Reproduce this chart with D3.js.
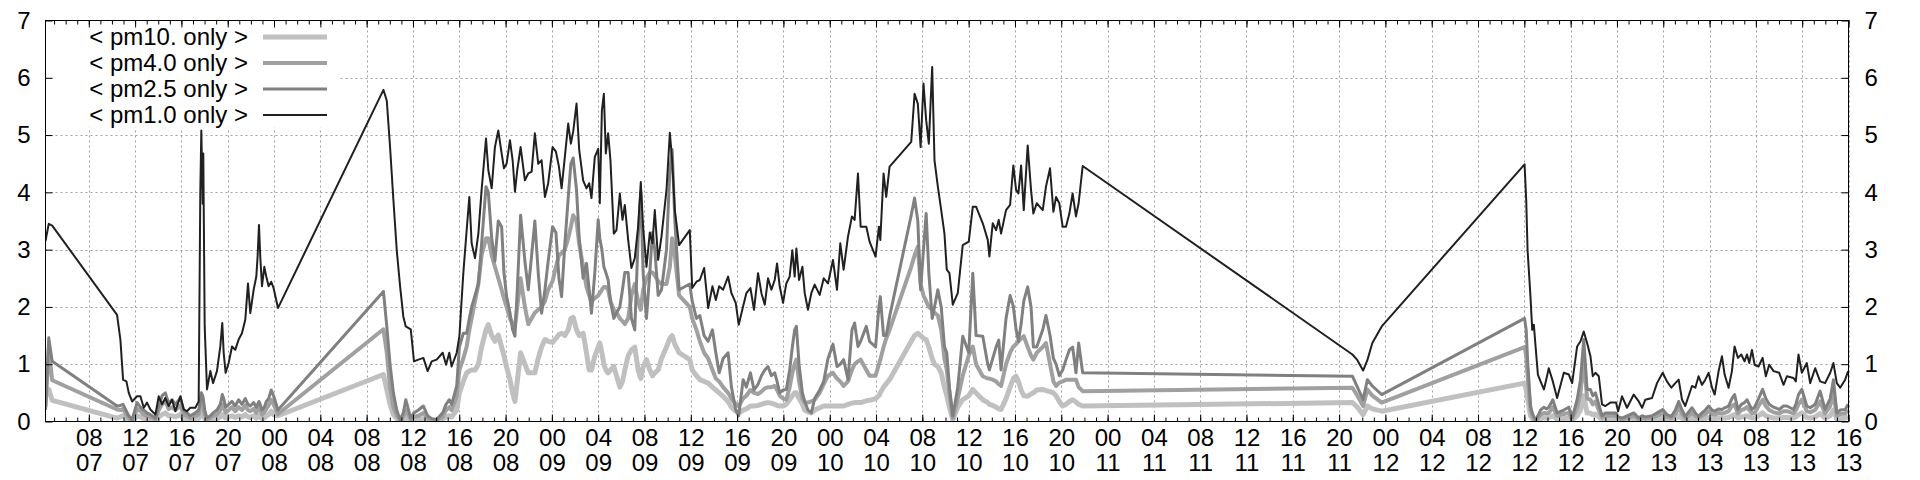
<!DOCTYPE html>
<meta charset="utf-8">
<style>
body { margin: 0; background: #fff; }
text { font-family: "Liberation Sans", Arial, sans-serif; }
</style>
<body>
  <div id="chart"></div>
</body>

<script src="https://d3js.org/d3.v7.min.js"></script>
<script>

// hours counted from 00:00 on day 07
var hours = [
  4.26, 4.54, 4.84,
  10.44, 10.73, 10.96, 11.25, 11.45, 11.74, 12.17, 12.46, 12.75, 13.03,
  13.32, 13.75, 14.04, 14.33, 14.61, 14.90, 15.19, 15.48, 15.91, 16.20,
  16.48, 16.77, 17.20, 17.49, 17.63, 17.72, 17.84, 17.89, 18.01, 18.21,
  18.50, 18.73, 19.07, 19.36, 19.53, 19.65, 19.82, 20.08, 20.37, 20.65,
  20.94, 21.23, 21.52, 21.75, 21.95, 22.24, 22.47, 22.58, 22.70, 22.81,
  22.96, 23.16, 23.33, 23.53, 23.76, 23.96, 24.34,
  33.45, 33.74, 34.02, 34.31, 34.60, 34.89, 35.17, 35.38, 35.81, 36.09,
  36.47, 36.90, 37.27, 37.62, 38.05, 38.57, 38.86, 39.14, 39.34, 39.78,
  40.01, 40.35, 40.64, 40.87, 41.07, 41.36, 41.65, 41.93, 42.31, 42.51,
  42.80, 43.08, 43.37, 43.66, 43.86, 44.09, 44.38, 44.61, 44.81, 45.01,
  45.30, 45.67, 45.96, 46.25, 46.53, 46.82, 47.11, 47.40, 47.68, 48.06,
  48.35, 48.61, 48.84, 49.12, 49.41, 49.64, 49.84, 50.13, 50.36, 50.70,
  50.99, 51.22, 51.42, 51.71, 52.00, 52.14, 52.32, 52.49, 52.66, 52.86,
  53.06, 53.35, 53.58, 53.87, 54.10, 54.30, 54.59, 54.87, 55.16, 55.45,
  55.68, 55.88, 56.17, 56.46, 56.69, 56.89, 57.18, 57.47, 57.90, 58.19,
  58.39, 58.62, 58.99, 59.91, 60.12, 60.49, 60.78, 61.15, 61.50, 61.87,
  62.16, 62.45, 62.79, 63.22, 63.51, 63.88, 64.14, 64.52, 64.80, 65.15,
  65.46, 65.81, 66.10, 66.39, 66.67, 66.96, 67.25, 67.45, 67.68, 67.97,
  68.25, 68.54, 68.77, 68.97, 69.12, 69.35, 69.64, 69.84, 70.12, 70.41,
  70.70, 71.13, 71.48, 71.85, 72.28, 72.63, 72.91, 73.20, 73.58, 73.92,
  74.15, 74.44, 74.67, 75.16, 75.44, 75.96, 76.25, 76.37, 76.65, 76.88,
  77.17, 79.04, 79.33, 79.61, 79.85, 80.10, 80.33, 80.56, 80.85, 81.05,
  81.34, 81.63, 81.91, 82.11, 82.34, 82.63, 83.06, 83.49, 84.01, 84.36,
  84.64, 85.22, 85.65, 85.79, 86.08, 86.37, 86.60, 86.80, 87.23, 87.58,
  87.86, 88.10, 88.30, 88.53, 88.76, 89.10, 89.39, 89.59, 89.88, 90.40,
  90.68, 91.03, 91.32, 91.55, 91.83, 92.12, 92.41, 92.70, 92.98, 93.27,
  93.50, 93.85,
  117.15, 117.58, 118.07, 118.44, 118.87, 119.68, 132.02,
  132.16, 132.28, 132.53, 132.68, 132.82, 132.97, 133.17, 133.40, 133.69, 133.89,
  134.11, 134.46, 134.83, 135.41, 135.84, 136.13, 136.56, 136.85, 137.13, 137.42,
  137.71, 137.91, 138.14, 138.43, 138.71, 139.00, 139.43, 139.92, 140.10, 140.44,
  140.87, 141.45, 141.88, 142.17, 142.45, 143.03, 143.46, 143.95, 144.32, 144.70,
  145.04, 145.33, 145.62, 145.90, 146.48, 146.77, 147.05, 147.34, 147.63, 147.92,
  148.21, 148.44, 148.78, 149.07, 149.30, 149.64, 149.93, 150.16, 150.45, 150.74,
  151.02, 151.23, 151.43, 151.66, 151.89, 152.23, 152.58, 152.86, 153.15, 153.53,
  154.01, 154.39, 154.68, 155.25, 155.45, 155.68, 155.97, 156.40, 156.69, 157.12,
  157.55, 157.98, 158.42, 158.70, 158.99, 159.28, 159.71, 159.97
]

var pm01 = [
  3.15, 3.45, 3.42,
  1.86, 1.43, 0.73, 0.70, 0.50, 0.35, 0.44, 0.44, 0.24, 0.33,
  0.21, 0.12, 0.44, 0.30, 0.41, 0.27, 0.38, 0.18, 0.44, 0.21,
  0.18, 0.24, 0.24, 0.35, 3.98, 5.08, 3.80, 4.68, 1.66, 0.56,
  0.88, 0.67, 0.88, 1.31, 1.72, 1.20, 0.85, 1.02, 1.31, 1.25,
  1.43, 1.54, 1.78, 2.41, 1.89, 2.30, 2.53, 2.88, 3.43, 2.88,
  2.36, 2.70, 2.53, 2.36, 2.44, 2.33, 1.98,
  5.79, 5.60, 4.80, 3.87, 2.99, 2.36, 1.83, 1.66, 1.61, 1.05,
  1.08, 1.11, 0.88, 1.05, 1.08, 1.20, 0.99, 1.20, 0.96, 1.20,
  1.49, 2.59, 3.34, 3.92, 3.11, 2.85, 3.28, 4.04, 4.94, 4.39,
  4.07, 4.79, 5.08, 4.68, 4.42, 4.50, 4.91, 4.56, 4.01, 4.39,
  4.79, 4.21, 4.33, 4.36, 5.03, 4.50, 4.56, 3.92, 4.16, 4.79,
  4.71, 4.45, 4.07, 4.62, 5.20, 4.85, 5.06, 5.55, 4.74, 4.21,
  4.07, 4.16, 3.90, 4.62, 4.76, 3.81, 5.43, 5.72, 4.68, 5.03,
  4.56, 3.28, 3.34, 3.98, 3.52, 3.78, 3.17, 2.68, 2.85, 3.40,
  4.18, 3.40, 2.70, 3.30, 3.11, 3.69, 2.82, 3.23, 4.04, 5.04,
  4.56, 3.69, 3.08, 3.34, 2.33, 2.44, 2.47, 2.68, 1.98, 2.36,
  2.12, 2.36, 2.30, 2.53, 2.24, 2.07, 1.69, 2.01, 2.24, 2.33,
  1.95, 2.59, 2.24, 2.04, 2.50, 2.30, 2.47, 2.76, 2.36, 2.07,
  2.41, 2.53, 2.99, 2.53, 3.02, 2.47, 2.70, 2.24, 1.95, 2.24,
  2.39, 2.21, 2.50, 2.41, 2.82, 2.30, 3.11, 2.65, 3.23, 3.58,
  3.52, 4.33, 3.40, 3.40, 3.14, 2.88, 3.40, 3.17, 4.33, 3.92,
  4.45, 4.88, 5.72, 5.55, 4.79, 5.90, 5.26, 4.85, 6.19, 4.56,
  4.10, 3.69, 3.28, 2.65, 2.59, 2.04, 2.24, 3.08, 3.14, 3.75,
  3.75, 3.46, 3.17, 2.88, 3.46, 3.34, 3.52, 3.28, 3.69, 3.78,
  4.47, 4.04, 3.98, 4.47, 3.69, 4.82, 4.04, 3.63, 3.81, 3.69,
  4.10, 4.42, 3.66, 3.92, 3.81, 3.40, 3.40, 3.63, 3.98, 3.58,
  3.81, 4.46,
  1.17, 1.07, 0.89, 1.07, 1.37, 1.66, 4.49,
  3.87, 2.99, 2.18, 1.60, 1.69, 1.31, 0.82, 0.70, 0.56, 0.73,
  0.93, 0.70, 0.41, 0.85, 0.82, 0.67, 1.31, 1.40, 1.57, 1.37,
  1.14, 0.79, 0.85, 0.79, 0.30, 0.27, 0.33, 0.33, 0.18, 0.44,
  0.24, 0.47, 0.35, 0.24, 0.38, 0.41, 0.67, 0.85, 0.70, 0.59,
  0.67, 0.73, 0.38, 0.27, 0.62, 0.59, 0.79, 0.64, 0.73, 0.85,
  0.59, 0.47, 0.88, 1.14, 0.82, 0.59, 0.88, 1.31, 1.11, 1.17,
  1.05, 1.17, 1.02, 1.25, 0.99, 0.96, 1.11, 0.79, 0.99, 0.88,
  0.85, 0.64, 0.79, 0.76, 0.70, 1.17, 0.85, 1.02, 0.67, 0.93,
  0.70, 0.67, 0.85, 1.02, 0.67, 0.59, 0.73, 0.88
]

var pm25 = [
  0.20, 1.46, 1.05,
  0.27, 0.28, 0.30, 0.18, 0.10, 0.03, 0.33, 0.25, 0.20, 0.15,
  0.12, 0.06, 0.27, 0.45, 0.50, 0.32, 0.38, 0.30, 0.41, 0.20,
  0.15, 0.10, 0.15, 0.20, 0.35, 0.50, 0.45, 0.40, 0.20, 0.06,
  0.10, 0.15, 0.20, 0.30, 0.47, 0.40, 0.25, 0.30, 0.35, 0.27,
  0.38, 0.30, 0.40, 0.30, 0.27, 0.33, 0.25, 0.30, 0.35, 0.30,
  0.20, 0.25, 0.35, 0.40, 0.55, 0.45, 0.20,
  2.27, 1.66, 1.00, 0.50, 0.20, 0.03, 0.15, 0.38, 0.06, 0.15,
  0.20, 0.27, 0.10, 0.05, 0.04, 0.15, 0.30, 0.38, 0.30, 0.62,
  1.30, 1.54, 1.54, 1.80, 2.00, 2.20, 2.40, 3.10, 4.10, 4.00,
  3.20, 2.80, 3.50, 3.40, 2.60, 2.18, 1.90, 1.60, 1.49, 2.30,
  3.60, 2.80, 2.30, 2.90, 3.50, 2.60, 1.89, 2.30, 2.80, 3.40,
  3.30, 2.50, 2.18, 3.10, 3.90, 4.50, 4.60, 4.04, 3.20, 2.50,
  2.76, 2.30, 1.89, 2.60, 3.52, 3.20, 3.00, 2.70, 2.60, 2.47,
  2.10, 1.80, 1.90, 2.00, 2.30, 2.60, 2.60, 1.80, 1.60, 3.20,
  4.00, 2.60, 1.80, 2.60, 3.30, 3.00, 2.20, 2.30, 3.00, 4.40,
  4.75, 3.50, 2.30, 2.40, 2.10, 1.80, 1.85, 1.50, 1.40, 1.60,
  1.20, 0.85, 1.10, 1.20, 0.60, 0.20, 0.10, 0.73, 0.60, 0.85,
  0.55, 0.65, 0.80, 0.90, 0.96, 0.80, 0.85, 0.70, 0.50, 0.55,
  0.56, 0.90, 1.30, 1.60, 1.66, 1.00, 0.50, 0.35, 0.20, 0.15,
  0.40, 0.55, 0.70, 1.10, 1.35, 0.96, 1.00, 1.08, 0.73, 1.60,
  1.72, 1.31, 1.40, 1.66, 1.40, 1.30, 2.00, 2.18, 1.50, 1.50,
  1.83, 3.60, 3.90, 3.50, 2.30, 3.00, 3.63, 2.60, 1.80, 2.00,
  2.30, 2.00, 1.31, 1.20, 0.60, 0.09, 0.60, 1.49, 1.20, 2.59,
  1.50, 1.49, 1.00, 0.90, 1.10, 1.30, 1.42, 0.90, 1.80, 2.20,
  2.01, 1.60, 1.40, 1.70, 2.10, 2.35, 2.00, 1.30, 1.30, 1.60,
  1.85, 1.50, 1.10, 1.00, 0.80, 0.90, 1.08, 1.25, 1.30, 0.85,
  1.37, 0.85,
  0.79, 0.60, 0.38, 0.73, 0.62, 0.47, 1.80,
  1.60, 1.08, 0.27, 0.15, 0.08, 0.03, 0.10, 0.20, 0.25, 0.22,
  0.25, 0.38, 0.15, 0.20, 0.25, 0.07, 0.38, 0.73, 1.43, 0.56,
  0.56, 0.45, 0.50, 0.30, 0.10, 0.15, 0.15, 0.15, 0.08, 0.06,
  0.10, 0.15, 0.06, 0.10, 0.08, 0.10, 0.15, 0.21, 0.12, 0.09,
  0.20, 0.35, 0.20, 0.09, 0.24, 0.15, 0.09, 0.15, 0.20, 0.27,
  0.20, 0.18, 0.22, 0.21, 0.24, 0.27, 0.40, 0.47, 0.21, 0.30,
  0.33, 0.38, 0.30, 0.21, 0.25, 0.40, 0.56, 0.40, 0.30, 0.25,
  0.21, 0.27, 0.27, 0.21, 0.30, 0.47, 0.56, 0.27, 0.24, 0.30,
  0.53, 0.21, 0.40, 0.73, 0.15, 0.20, 0.21, 0.30
]

var pm40 = [
  0.25, 1.25, 0.72,
  0.21, 0.20, 0.22, 0.12, 0.06, 0.02, 0.22, 0.18, 0.12, 0.10,
  0.08, 0.04, 0.20, 0.30, 0.35, 0.22, 0.25, 0.20, 0.28, 0.12,
  0.10, 0.06, 0.10, 0.12, 0.25, 0.35, 0.30, 0.28, 0.12, 0.04,
  0.06, 0.10, 0.12, 0.20, 0.30, 0.25, 0.15, 0.20, 0.25, 0.18,
  0.25, 0.20, 0.28, 0.20, 0.18, 0.22, 0.15, 0.20, 0.25, 0.20,
  0.12, 0.16, 0.22, 0.28, 0.38, 0.30, 0.13,
  1.61, 1.20, 0.60, 0.25, 0.10, 0.02, 0.08, 0.20, 0.04, 0.08,
  0.10, 0.15, 0.06, 0.03, 0.02, 0.08, 0.20, 0.25, 0.20, 0.45,
  0.90, 1.10, 1.31, 1.60, 1.80, 2.10, 2.40, 2.90, 3.20, 3.20,
  2.90, 2.70, 2.50, 2.30, 2.15, 2.00, 1.80, 1.70, 1.66, 2.00,
  2.50, 2.00, 1.70, 1.80, 1.90, 1.95, 2.00, 2.10, 2.30, 2.45,
  2.70, 2.90, 2.94, 3.00, 3.20, 3.40, 3.60, 3.50, 3.10, 2.70,
  2.35, 2.20, 2.10, 2.15, 2.20, 2.24, 2.30, 2.35, 2.35, 2.30,
  2.10, 1.95, 1.90, 1.80, 1.75, 1.70, 1.80, 2.20, 2.40, 2.10,
  1.95, 2.30, 2.50, 2.60, 2.60, 2.55, 2.45, 2.40, 2.40, 2.70,
  3.20, 2.90, 2.20, 2.00, 1.80, 1.60, 1.40, 1.20, 1.10, 0.90,
  0.75, 0.70, 0.60, 0.50, 0.40, 0.30, 0.27, 0.40, 0.45, 0.55,
  0.50, 0.48, 0.52, 0.58, 0.60, 0.60, 0.62, 0.55, 0.45, 0.40,
  0.38, 0.60, 0.85, 1.00, 1.08, 0.70, 0.40, 0.33, 0.33, 0.35,
  0.38, 0.50, 0.65, 0.80, 0.85, 0.75, 0.70, 0.62, 0.70, 0.90,
  1.00, 1.05, 1.08, 0.90, 0.80, 0.80, 1.00, 1.08, 1.30, 1.45,
  1.60, 2.70, 2.90, 3.05, 2.40, 2.20, 2.10, 2.00, 1.95, 1.90,
  1.85, 1.60, 1.10, 0.90, 0.50, 0.06, 0.40, 0.80, 1.15, 1.31,
  1.00, 0.79, 0.75, 0.75, 0.73, 0.70, 0.65, 0.62, 1.00, 1.20,
  1.31, 1.35, 1.40, 1.45, 1.49, 1.30, 1.15, 1.08, 1.20, 1.30,
  1.37, 1.00, 0.70, 0.62, 0.68, 0.70, 0.73, 0.73, 0.73, 0.73,
  0.60, 0.53,
  0.59, 0.45, 0.27, 0.56, 0.45, 0.33, 1.30,
  1.15, 0.80, 0.20, 0.10, 0.05, 0.02, 0.06, 0.12, 0.15, 0.14,
  0.15, 0.25, 0.10, 0.13, 0.15, 0.05, 0.25, 0.50, 1.10, 0.40,
  0.38, 0.30, 0.35, 0.20, 0.07, 0.10, 0.10, 0.10, 0.05, 0.04,
  0.06, 0.10, 0.04, 0.06, 0.05, 0.07, 0.10, 0.15, 0.08, 0.06,
  0.13, 0.25, 0.13, 0.06, 0.15, 0.10, 0.06, 0.10, 0.13, 0.18,
  0.13, 0.12, 0.15, 0.14, 0.15, 0.18, 0.27, 0.30, 0.14, 0.20,
  0.22, 0.25, 0.20, 0.14, 0.15, 0.27, 0.38, 0.27, 0.20, 0.16,
  0.14, 0.18, 0.18, 0.14, 0.20, 0.30, 0.38, 0.18, 0.16, 0.20,
  0.35, 0.14, 0.27, 0.50, 0.10, 0.13, 0.14, 0.20
]

var pm10 = [
  0.45, 0.56, 0.37,
  0.06, 0.08, 0.10, 0.05, 0.03, 0.01, 0.10, 0.08, 0.05, 0.05,
  0.04, 0.02, 0.08, 0.12, 0.15, 0.10, 0.10, 0.08, 0.12, 0.05,
  0.04, 0.03, 0.04, 0.05, 0.10, 0.15, 0.12, 0.10, 0.05, 0.02,
  0.02, 0.04, 0.05, 0.08, 0.12, 0.10, 0.06, 0.08, 0.10, 0.07,
  0.10, 0.08, 0.12, 0.08, 0.07, 0.10, 0.06, 0.08, 0.10, 0.08,
  0.05, 0.06, 0.10, 0.12, 0.18, 0.12, 0.10,
  0.82, 0.56, 0.30, 0.12, 0.05, 0.01, 0.03, 0.06, 0.02, 0.03,
  0.04, 0.05, 0.03, 0.01, 0.01, 0.04, 0.08, 0.10, 0.08, 0.20,
  0.50, 0.70, 0.85, 0.88, 0.90, 0.90, 1.00, 1.30, 1.60, 1.69,
  1.50, 1.40, 1.51, 1.30, 1.15, 0.95, 0.73, 0.50, 0.35, 0.70,
  1.20, 1.00, 0.85, 0.85, 0.85, 1.10, 1.30, 1.43, 1.40, 1.38,
  1.45, 1.52, 1.54, 1.50, 1.60, 1.80, 1.82, 1.60, 1.50, 1.54,
  1.20, 0.90, 0.90, 1.14, 1.30, 1.37, 1.20, 1.00, 0.90, 0.85,
  0.90, 0.96, 0.80, 0.60, 0.70, 0.90, 1.15, 1.25, 1.30, 0.90,
  0.75, 0.95, 1.08, 0.90, 0.80, 0.85, 0.90, 1.10, 1.30, 1.45,
  1.50, 1.35, 1.20, 1.08, 0.90, 0.80, 0.73, 0.70, 0.67, 0.60,
  0.55, 0.50, 0.44, 0.35, 0.25, 0.18, 0.15, 0.20, 0.22, 0.27,
  0.27, 0.28, 0.30, 0.32, 0.33, 0.32, 0.30, 0.28, 0.27, 0.27,
  0.30, 0.38, 0.45, 0.50, 0.50, 0.40, 0.30, 0.20, 0.17, 0.15,
  0.20, 0.24, 0.27, 0.27, 0.27, 0.27, 0.27, 0.27, 0.30, 0.32,
  0.33, 0.33, 0.33, 0.36, 0.37, 0.40, 0.45, 0.50, 0.60, 0.66,
  0.73, 1.40, 1.50, 1.54, 1.50, 1.45, 1.43, 1.30, 1.10, 1.00,
  0.96, 0.85, 0.60, 0.45, 0.25, 0.03, 0.25, 0.38, 0.45, 0.56,
  0.50, 0.38, 0.33, 0.30, 0.28, 0.25, 0.22, 0.21, 0.40, 0.60,
  0.75, 0.79, 0.70, 0.55, 0.45, 0.44, 0.48, 0.50, 0.55, 0.56,
  0.54, 0.52, 0.50, 0.45, 0.35, 0.27, 0.30, 0.35, 0.38, 0.34,
  0.30, 0.27,
  0.33, 0.25, 0.12, 0.27, 0.22, 0.18, 0.67,
  0.55, 0.40, 0.10, 0.05, 0.03, 0.01, 0.03, 0.05, 0.06, 0.06,
  0.07, 0.10, 0.04, 0.05, 0.06, 0.02, 0.10, 0.20, 0.45, 0.15,
  0.15, 0.12, 0.13, 0.08, 0.03, 0.04, 0.04, 0.04, 0.02, 0.02,
  0.03, 0.04, 0.02, 0.03, 0.02, 0.03, 0.04, 0.06, 0.03, 0.03,
  0.05, 0.10, 0.05, 0.03, 0.06, 0.04, 0.03, 0.04, 0.05, 0.07,
  0.05, 0.05, 0.06, 0.06, 0.06, 0.07, 0.10, 0.12, 0.06, 0.08,
  0.09, 0.10, 0.08, 0.06, 0.06, 0.10, 0.15, 0.10, 0.08, 0.06,
  0.06, 0.07, 0.07, 0.06, 0.08, 0.12, 0.15, 0.07, 0.06, 0.08,
  0.14, 0.06, 0.10, 0.20, 0.04, 0.05, 0.06, 0.08
]

var seriesNames = ["< pm10. only >", "< pm4.0 only >", "< pm2.5 only >", "< pm1.0 only >"]
var seriesColors = ["#c0c0c0", "#a0a0a0", "#808080", "#202020"]
var seriesWidths = [5, 4, 3, 2]
var yTicks = [0, 1, 2, 3, 4, 5, 6, 7]

width = 1920;
height = 480;
margin = ({top: 20.5, right: 71.5, bottom: 58.5, left: 45.5});

var base = Date.UTC(2024, 5, 7);
function toDate(h) { return new Date(base + h * 3600000); }

var x = d3.scaleUtc()
  .domain([toDate(4.26), toDate(160)])
  .range([margin.left, width - margin.right]);

var y = d3.scaleLinear()
  .domain([0, 7])
  .range([height - margin.bottom, margin.top]);

var series = [pm10, pm40, pm25, pm01].map(function(vals, i) {
  return {
    name: seriesNames[i],
    color: seriesColors[i],
    width: seriesWidths[i],
    points: hours.map(function(h, j) { return {t: toDate(h), v: vals[j]}; })
  };
});

var svg = d3.select("#chart").append("svg")
  .attr("width", width)
  .attr("height", height)
  .style("display", "block");

var fontFam = '"Liberation Sans", Arial, sans-serif';
var fs = 24;

// grid
var majorTicks = x.ticks(d3.utcHour.every(4));
svg.append("g").selectAll("line")
  .data(majorTicks)
  .join("line")
    .attr("x1", d => Math.round(x(d)) + 0.5)
    .attr("x2", d => Math.round(x(d)) + 0.5)
    .attr("y1", margin.top)
    .attr("y2", height - margin.bottom)
    .attr("stroke", "#a0a0a0")
    .attr("stroke-dasharray", "2,3");

svg.append("g").selectAll("line")
  .data(yTicks.slice(1, -1))
  .join("line")
    .attr("x1", margin.left)
    .attr("x2", width - margin.right)
    .attr("y1", d => Math.round(y(d)) + 0.5)
    .attr("y2", d => Math.round(y(d)) + 0.5)
    .attr("stroke", "#a0a0a0")
    .attr("stroke-dasharray", "2,3");

// opaque key box
svg.append("rect")
  .attr("x", 53).attr("y", margin.top + 1)
  .attr("width", 287).attr("height", 106)
  .attr("fill", "#fff");

// lines
svg.append("clipPath").attr("id", "plotclip")
  .append("rect")
  .attr("x", margin.left).attr("y", margin.top)
  .attr("width", width - margin.left - margin.right)
  .attr("height", height - margin.top - margin.bottom);

var line = d3.line()
  .defined(d => d.v != null && !isNaN(d.v))
  .x(d => x(d.t))
  .y(d => y(d.v));

svg.append("g")
  .attr("clip-path", "url(#plotclip)")
  .selectAll("path")
  .data(series)
  .join("path")
    .attr("d", d => line(d.points))
    .attr("fill", "none")
    .attr("stroke", d => d.color)
    .attr("stroke-width", d => d.width)
    .attr("stroke-linejoin", "round");

// axes
function styleAxis(g) {
  g.attr("font-family", fontFam).attr("font-size", fs);
  g.select(".domain").remove();
  g.selectAll(".tick line").attr("stroke", "#000");
  g.selectAll(".tick text").attr("fill", "#000");
}

var fmtH = d3.utcFormat("%H"), fmtD = d3.utcFormat("%d");

var gx = svg.append("g")
  .attr("transform", "translate(0," + (height - margin.bottom) + ")")
  .call(d3.axisBottom(x).ticks(d3.utcHour.every(4)).tickSize(-7).tickPadding(0).tickFormat(fmtH))
  .call(styleAxis);

gx.selectAll(".tick text").each(function(d) {
  var t = d3.select(this).text(null).attr("y", null).attr("dy", null);
  t.append("tspan").attr("x", 0).attr("y", 24).text(fmtH(d));
  t.append("tspan").attr("x", 0).attr("y", 49).text(fmtD(d));
});

svg.append("g")
  .attr("transform", "translate(0," + (height - margin.bottom) + ")")
  .call(d3.axisBottom(x).ticks(d3.utcHour.every(1)).tickSize(-4).tickFormat(""))
  .call(styleAxis);

svg.append("g")
  .attr("transform", "translate(0," + margin.top + ")")
  .call(d3.axisTop(x).ticks(d3.utcHour.every(4)).tickSize(-7).tickFormat(""))
  .call(styleAxis);

svg.append("g")
  .attr("transform", "translate(0," + margin.top + ")")
  .call(d3.axisTop(x).ticks(d3.utcHour.every(1)).tickSize(-4).tickFormat(""))
  .call(styleAxis);

svg.append("g")
  .attr("transform", "translate(" + margin.left + ",0)")
  .call(d3.axisLeft(y).tickValues(yTicks).tickSize(-7).tickPadding(15).tickFormat(d3.format("d")))
  .call(styleAxis);

svg.append("g")
  .attr("transform", "translate(" + (width - margin.right) + ",0)")
  .call(d3.axisRight(y).tickValues(yTicks).tickSize(-7).tickPadding(16).tickFormat(d3.format("d")))
  .call(styleAxis);

// border
svg.append("rect")
  .attr("x", margin.left).attr("y", margin.top)
  .attr("width", width - margin.left - margin.right)
  .attr("height", height - margin.top - margin.bottom)
  .attr("fill", "none")
  .attr("stroke", "#000");

// key
var key = svg.append("g").selectAll("g")
  .data(series)
  .join("g")
    .attr("transform", (d, i) => "translate(0," + (37 + i * 26) + ")");

key.append("text")
  .attr("x", 248)
  .attr("dy", "0.35em")
  .attr("text-anchor", "end")
  .attr("font-family", fontFam)
  .attr("font-size", fs)
  .text(d => d.name);

key.append("line")
  .attr("x1", 263).attr("x2", 327)
  .attr("stroke", d => d.color)
  .attr("stroke-width", d => d.width);

</script>
